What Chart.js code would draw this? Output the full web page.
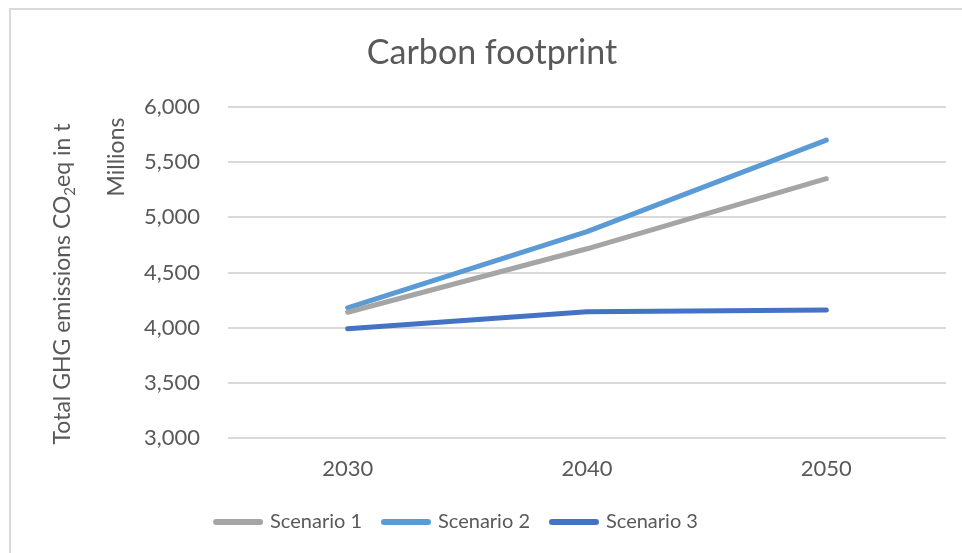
<!DOCTYPE html>
<html>
<head>
<meta charset="utf-8">
<script src="https://cdn.jsdelivr.net/npm/chart.js@4.4.1/dist/chart.umd.min.js"></script>
<style>
  html, body { margin: 0; padding: 0; background: #ffffff; }
  #wrap { position: relative; width: 962px; height: 553px; }
</style>
</head>
<body>
<div id="wrap"><canvas id="c" width="962" height="553"></canvas></div>
<script>
// Years on the category axis
const years = ['2030', '2040', '2050'];

// Total GHG emissions per scenario (millions of t CO2eq)
const scenario1 = [4140, 4715, 5350];
const scenario2 = [4180, 4870, 5700];
const scenario3 = [3990, 4145, 4160];

const seriesNames = ['Scenario 1', 'Scenario 2', 'Scenario 3'];
const seriesColors = ['#A5A5A5', '#5B9BD5', '#4472C4'];

// Value axis range
const yMin = 3000;
const yMax = 6000;
const yStep = 500;

// Texts
const chartTitle = 'Carbon footprint';
const yTitleParts = ['Total GHG emissions CO', '2', 'eq in t'];
const yUnitLabel = 'Millions';

const textColor = '#595959';
const gridColor = '#d9d9d9';
const fontFamily = 'Lato, "Open Sans", sans-serif';

// Frame, chart title and the rotated value-axis titles
const frameAndTitles = {
  id: 'frameAndTitles',
  afterLayout(chart) {
    // nudge the legend row a little to the left
    if (chart.legend) {
      chart.legend.left -= 16;
      chart.legend.right -= 16;
    }
  },
  beforeDraw(chart) {
    const ctx = chart.ctx;
    ctx.save();
    ctx.strokeStyle = gridColor;
    ctx.lineWidth = 2;
    ctx.beginPath();
    ctx.moveTo(10, chart.height);
    ctx.lineTo(10, 9);
    ctx.lineTo(chart.width, 9);
    ctx.stroke();
    ctx.restore();
  },
  afterDraw(chart) {
    const ctx = chart.ctx;
    ctx.save();
    ctx.fillStyle = textColor;
    ctx.textBaseline = 'middle';
    ctx.textAlign = 'center';
    ctx.font = '34px ' + fontFamily;
    ctx.fillText(chartTitle, 492, 53);

    // "Total GHG emissions CO2eq in t" with subscript 2
    ctx.save();
    ctx.translate(62, 284);
    ctx.rotate(-Math.PI / 2);
    ctx.textAlign = 'left';
    ctx.textBaseline = 'alphabetic';
    const big = '23px ' + fontFamily;
    const small = '15px ' + fontFamily;
    ctx.font = big;
    const w0 = ctx.measureText(yTitleParts[0]).width;
    const w2 = ctx.measureText(yTitleParts[2]).width;
    ctx.font = small;
    const w1 = ctx.measureText(yTitleParts[1]).width;
    let x = -(w0 + w1 + w2) / 2;
    const base = 8;
    ctx.font = big;
    ctx.fillText(yTitleParts[0], x, base);
    x += w0;
    ctx.font = small;
    ctx.fillText(yTitleParts[1], x, base + 5);
    x += w1;
    ctx.font = big;
    ctx.fillText(yTitleParts[2], x, base);
    ctx.restore();

    // Display unit label
    ctx.save();
    ctx.translate(117, 157);
    ctx.rotate(-Math.PI / 2);
    ctx.textAlign = 'center';
    ctx.textBaseline = 'middle';
    ctx.font = '23px ' + fontFamily;
    ctx.fillText(yUnitLabel, 0, 0);
    ctx.restore();

    ctx.restore();
  }
};

const seriesValues = [scenario1, scenario2, scenario3];

new Chart(document.getElementById('c'), {
  type: 'line',
  data: {
    labels: years,
    datasets: seriesValues.map((vals, i) => ({
      label: seriesNames[i],
      data: vals,
      borderColor: seriesColors[i],
      backgroundColor: seriesColors[i],
      borderWidth: 5,
      borderCapStyle: 'round',
      borderJoinStyle: 'round',
      pointRadius: 0,
      pointHoverRadius: 0,
      tension: 0,
      fill: false
    }))
  },
  options: {
    responsive: false,
    animation: false,
    devicePixelRatio: 1,
    layout: { padding: { top: 107, right: 16, bottom: 11, left: 0 } },
    scales: {
      x: {
        type: 'category',
        offset: true,
        grid: { display: false, drawTicks: false },
        border: { display: false },
        ticks: { color: textColor, font: { family: fontFamily, size: 22 }, padding: 18 },
        afterFit(scale) { scale.height = 52; }
      },
      y: {
        min: yMin,
        max: yMax,
        ticks: {
          stepSize: yStep,
          color: textColor,
          font: { family: fontFamily, size: 22 },
          padding: 28,
          callback: (v) => v.toLocaleString('en-US')
        },
        grid: { color: gridColor, lineWidth: 2, drawTicks: false },
        border: { display: false },
        afterFit(scale) { scale.width = 228; }
      }
    },
    plugins: {
      title: { display: false },
      tooltip: { enabled: false },
      legend: {
        position: 'bottom',
        labels: {
          usePointStyle: true,
          pointStyleWidth: 44,
          boxHeight: 20,
          padding: 22,
          color: textColor,
          font: { family: fontFamily, size: 20 },
          generateLabels(chart) {
            return chart.data.datasets.map((ds, i) => ({
              text: ds.label,
              fillStyle: ds.borderColor,
              strokeStyle: ds.borderColor,
              lineWidth: 6,
              lineCap: 'round',
              pointStyle: 'line',
              fontColor: textColor,
              hidden: !chart.isDatasetVisible(i),
              datasetIndex: i
            }));
          }
        }
      }
    }
  },
  plugins: [frameAndTitles]
});
</script>
</body>
</html>
